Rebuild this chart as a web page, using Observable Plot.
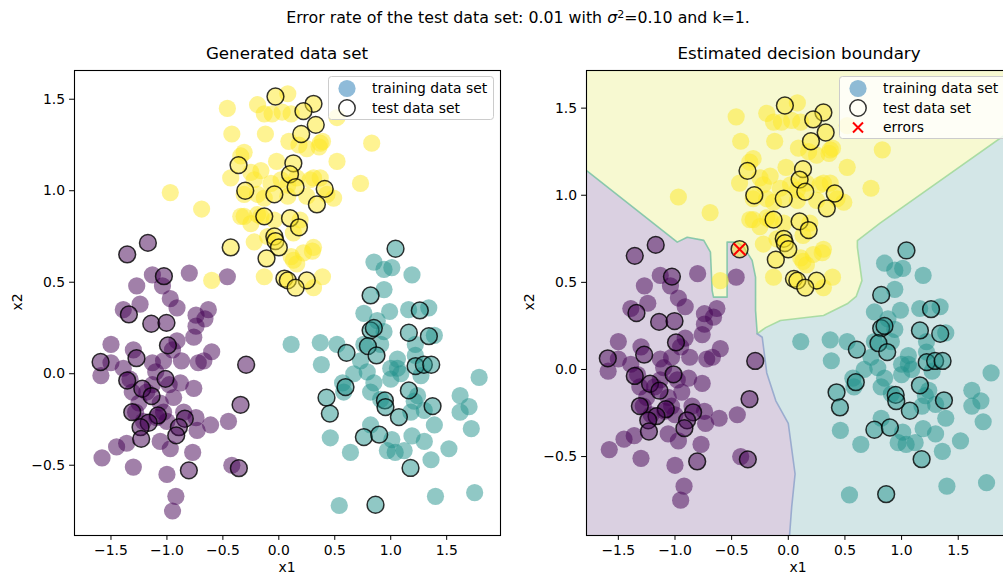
<!DOCTYPE html>
<html><head><meta charset="utf-8">
<script src="https://cdn.jsdelivr.net/npm/d3@7"></script>
<script src="https://cdn.jsdelivr.net/npm/@observablehq/plot@0.6"></script>
<style>
body{margin:0;background:#fff;font-family:"DejaVu Sans",sans-serif;}
#wrap{position:relative;width:1003px;height:576px;overflow:hidden;background:#fff;}
.abs{position:absolute;}
.abs svg{max-width:none !important;}
.txt{position:absolute;transform:translate(-50%,-50%);white-space:nowrap;line-height:1;color:#000;font-family:"DejaVu Sans",sans-serif;}
.t16{font-size:16.7px;}
.tsup{font-size:15.8px;}
.t14{font-size:13.9px;}
sup{font-size:70%;vertical-align:0.45em;line-height:0;}
</style></head><body>
<div id="wrap"></div>
<script>
// ---- data ----
const classColors = ["#440154", "#21918c", "#fde725"]; // purple, teal, yellow
const xTicks = [-1.5, -1.0, -0.5, 0.0, 0.5, 1.0, 1.5];
const yTicks = [-0.5, 0.0, 0.5, 1.0, 1.5];

const purpleTrain = [
[-1.13,0.54],[-1.27,0.48],[-1.04,0.48],[-0.80,0.55],[-0.46,0.53],[-0.97,0.41],[-1.24,0.38],[-1.39,0.35],
[-0.91,0.36],[-0.74,0.32],[-0.63,0.35],[-0.66,0.30],[-0.74,0.26],[-0.76,0.20],[-0.91,0.18],[-0.95,0.13],
[-1.50,0.16],[-1.30,0.13],[-1.50,0.06],[-1.59,-0.01],[-1.39,0.03],[-1.13,0.06],[-1.03,0.07],[-0.87,0.07],
[-0.72,0.06],[-0.60,0.12],[-0.67,0.07],[-0.88,-0.05],[-0.76,-0.08],[-0.98,-0.06],[-1.10,0.01],[-1.33,-0.03],
[-1.31,-0.10],[-1.18,-0.10],[-0.94,-0.13],[-1.06,-0.16],[-1.03,-0.21],[-0.85,-0.21],[-0.74,-0.24],[-0.61,-0.28],
[-0.45,-0.26],[-0.73,-0.31],[-1.06,-0.37],[-0.97,-0.41],[-0.77,-0.43],[-1.36,-0.38],[-1.45,-0.40],[-1.58,-0.46],
[-1.30,-0.51],[-1.00,-0.55],[-0.92,-0.67],[-0.95,-0.75],[-0.42,-0.50],[-1.28,-0.21],[-1.21,-0.26],[-1.09,-0.24],
[-1.13,-0.06],[-1.25,-0.16],[-1.00,-0.26]
];
const tealTrain = [
[0.85,0.61],[0.94,0.57],[1.01,0.58],[1.19,0.54],[0.94,0.46],[0.76,0.33],[0.99,0.34],[1.16,0.35],[1.34,0.36],
[0.11,0.16],[0.37,0.17],[0.52,0.16],[0.38,0.05],[0.88,0.29],[0.94,0.23],[0.76,0.16],[0.91,0.16],[1.06,0.08],
[1.00,0.03],[0.73,0.07],[0.67,0.00],[0.57,-0.05],[0.79,0.01],[0.85,-0.05],[0.82,-0.10],[1.00,-0.03],[1.06,0.03],
[1.09,0.00],[1.22,0.16],[1.22,0.10],[1.39,0.21],[1.27,-0.01],[1.24,-0.12],[1.18,-0.21],[1.30,-0.20],[1.39,-0.28],
[1.52,-0.41],[1.62,-0.12],[1.70,-0.18],[1.62,-0.21],[1.72,-0.30],[1.79,-0.02],[0.46,-0.35],[0.64,-0.43],[0.82,-0.28],
[1.01,-0.36],[0.97,-0.42],[1.04,-0.43],[1.12,-0.42],[1.19,-0.34],[1.30,-0.37],[1.36,-0.47],[0.54,-0.72],[1.40,-0.67],
[1.75,-0.65],[0.58,-0.10],[0.91,-0.14],[1.21,-0.15]
];
const yellowTrain = [
[-0.46,1.45],[-0.19,1.47],[0.08,1.53],[-0.13,1.42],[-0.06,1.42],[0.03,1.43],[0.11,1.42],[0.52,1.40],
[-0.42,1.31],[-0.12,1.31],[0.09,1.27],[0.18,1.25],[0.25,1.23],[0.36,1.24],[0.39,1.27],[0.83,1.26],
[-0.31,1.21],[-0.34,1.19],[-0.02,1.16],[0.52,1.16],[-0.43,1.07],[-0.25,1.10],[-0.16,1.11],[-0.22,1.06],
[0.02,1.06],[0.08,1.03],[0.28,1.06],[0.37,1.07],[0.73,1.04],[-0.97,0.99],[-0.69,0.90],[-0.31,0.98],
[-0.19,0.98],[-0.13,0.96],[0.08,0.97],[0.25,0.97],[0.49,0.96],[-0.31,0.86],[-0.25,0.82],[-0.19,0.87],
[0.19,0.84],[-0.22,0.72],[-0.10,0.75],[0.31,0.69],[0.22,0.66],[0.11,0.64],[0.16,0.60],[-0.60,0.51],
[-0.13,0.53],[0.39,0.53],[0.31,0.47],[0.13,0.62],[-0.34,0.86],[-0.16,0.86],[-0.07,1.04],[0.16,1.07],
[0.43,0.98],[-0.04,0.84],[0.13,0.77],[0.37,1.26],[0.31,1.07],[0.30,0.67]
];

const purpleTest = [
[-1.355,0.652],[-1.17,0.715],[-1.027,0.533],[-1.34,0.324],[-1.14,0.273],[-1.004,0.278],[-0.991,0.155],
[-1.593,0.064],[-1.272,0.085],[-1.355,-0.037],[-1.013,-0.028],[-1.22,-0.082],[-1.137,-0.122],[-1.31,-0.21],
[-1.081,-0.228],[-1.163,-0.268],[-1.236,-0.292],[-1.23,-0.356],[-0.84,-0.246],[-0.893,-0.292],[-0.917,-0.337],
[-0.804,-0.528],[-0.292,0.049],[-0.342,-0.17],[-0.357,-0.516]
];
const tealTest = [
[1.043,0.683],[0.82,0.428],[1.26,0.346],[0.82,0.237],[0.849,0.25],[1.162,0.224],[1.341,0.205],[0.605,0.114],
[0.796,0.151],[0.873,0.1],[1.222,0.042],[1.296,0.049],[1.362,0.049],[0.596,-0.073],[1.162,-0.091],[0.426,-0.131],
[0.456,-0.218],[0.948,-0.146],[0.953,-0.182],[1.073,-0.237],[1.374,-0.177],[0.76,-0.346],[0.897,-0.333],
[1.177,-0.515],[0.864,-0.716]
];
const yellowTest = [
[-0.03,1.515],[0.31,1.475],[0.22,1.435],[0.33,1.36],[0.20,1.31],[-0.36,1.14],[0.13,1.15],[0.10,1.09],
[-0.30,1.00],[-0.04,0.98],[0.15,1.02],[0.41,1.01],[0.34,0.925],[-0.13,0.86],[0.10,0.85],[0.18,0.80],
[-0.04,0.75],[-0.03,0.725],[0.0,0.69],[-0.11,0.63],[-0.43,0.69],[0.05,0.52],[0.08,0.51],[0.25,0.51],[0.15,0.47]
];
const errors = [[-0.43,0.69]];

// decision boundaries (right panel)
const boundaryYP = [[-1.85,1.18],[-1.78,1.142],[-0.98,0.731],[-0.892,0.759],[-0.746,0.741],[-0.687,0.673],
  [-0.672,0.453],[-0.66,0.415],[-0.54,0.415],[-0.54,0.731],[-0.451,0.731],[-0.393,0.702],[-0.319,0.626],
  [-0.289,0.53],[-0.289,0.339],[-0.274,0.205]];
const boundaryYT = [[-0.274,0.205],[-0.2,0.24],[-0.069,0.281],[0.311,0.31],[0.52,0.377],[0.6,0.42],
  [0.65,0.51],[0.61,0.70],[0.61,0.74],[0.81,0.84],[2.05,1.41]];
const boundaryPT = [[-0.274,0.205],[-0.23,0.185],[-0.19,-0.02],[-0.11,-0.18],[0.0,-0.31],[0.06,-0.6],
  [0.03,-0.79],[0.0,-1.05]];
const regionColors = {purple:"#dad0e1", teal:"#d3e6e7", yellow:"#f7f9d1"};

// ---- build ----
const fmt = d => (d < 0 ? "\u2212" : "") + Math.abs(d).toFixed(1);
const trainSets = [purpleTrain, tealTrain, yellowTrain];
const testSets = [purpleTest, tealTest, yellowTest];

function pointMarks(clip) {
  const m = [];
  trainSets.forEach((s, i) => m.push(Plot.dot(s, {x: d => d[0], y: d => d[1], r: 8.6, fill: classColors[i], fillOpacity: 0.5, clip})));
  testSets.forEach((s, i) => m.push(Plot.dot(s, {x: d => d[0], y: d => d[1], r: 8.4, fill: classColors[i], fillOpacity: 0.5, stroke: "#000", strokeOpacity: 0.8, strokeWidth: 1.5, clip})));
  return m;
}
function axes() {
  return [
    Plot.axisX({ticks: xTicks, tickFormat: fmt, tickSize: 4.9, tickPadding: 4.5, label: null}),
    Plot.axisY({ticks: yTicks, tickFormat: fmt, tickSize: 4.9, tickPadding: 4.5, label: null}),
    Plot.frame({stroke: "#000", strokeWidth: 1.1})
  ];
}
const style = {fontFamily: "DejaVu Sans, sans-serif", fontSize: "13.9px", color: "#000", background: "transparent", overflow: "visible", maxWidth: "none"};

const p1 = Plot.plot({
  width: 510, height: 576, marginLeft: 74, marginRight: 10, marginTop: 70, marginBottom: 41,
  style, x: {domain: [-1.826, 1.981]}, y: {domain: [-0.884, 1.657]},
  marks: [...pointMarks(false), ...axes()]
});

const purplePoly = [...boundaryYP, ...boundaryPT.slice(1), [-1.85, -1.05]];
const yellowPoly = [[-1.85, 1.8], [2.1, 1.8], ...boundaryYT.slice().reverse(), ...boundaryYP.slice().reverse()];

const p2 = Plot.plot({
  width: 502, height: 576, marginLeft: 66, marginRight: 10, marginTop: 70, marginBottom: 41,
  style, x: {domain: [-1.781, 1.979]}, y: {domain: [-0.953, 1.716]},
  marks: [
    Plot.frame({fill: regionColors.teal}),
    Plot.line(purplePoly, {x: d => d[0], y: d => d[1], fill: regionColors.purple, stroke: "none", clip: true}),
    Plot.line(yellowPoly, {x: d => d[0], y: d => d[1], fill: regionColors.yellow, stroke: "none", clip: true}),
    Plot.line(boundaryYP, {x: d => d[0], y: d => d[1], stroke: "#7fc4a6", strokeWidth: 1.6, strokeOpacity: 0.9, clip: true}),
    Plot.line(boundaryYT, {x: d => d[0], y: d => d[1], stroke: "#a3d99c", strokeWidth: 1.6, strokeOpacity: 0.9, clip: true}),
    Plot.line(boundaryPT, {x: d => d[0], y: d => d[1], stroke: "#93a6cc", strokeWidth: 1.6, strokeOpacity: 0.9, clip: true}),
    ...pointMarks(true),
    Plot.dot(errors, {x: d => d[0], y: d => d[1], symbol: "times", r: 5.5, stroke: "red", strokeWidth: 2}),
    ...axes()
  ]
});

const wrap = document.getElementById("wrap");
const d1 = document.createElement("div"); d1.className = "abs"; d1.style.left = "0px"; d1.style.top = "0px"; d1.style.width = "510px"; d1.appendChild(p1); wrap.appendChild(d1);
const d2 = document.createElement("div"); d2.className = "abs"; d2.style.left = "520px"; d2.style.top = "0px"; d2.style.width = "502px"; d2.appendChild(p2); wrap.appendChild(d2);

function text(html, x, y, cls, rot) {
  const t = document.createElement("div");
  t.className = "txt " + cls;
  t.style.left = x + "px"; t.style.top = y + "px";
  if (rot) t.style.transform = "translate(-50%,-50%) rotate(-90deg)";
  t.innerHTML = html;
  wrap.appendChild(t);
}
text('Error rate of the test data set: 0.01 with <i>σ</i><sup>2</sup>=0.10 and k=1.', 518, 18, "tsup");
text("Generated data set", 287, 53, "t16");
text("Estimated decision boundary", 799, 53, "t16");
text("x1", 287, 568, "t14");
text("x1", 798, 568, "t14");
text("x2", 18, 302, "t14", true);
text("x2", 530, 302, "t14", true);

function legend(x, y, w, h, items) {
  const svg = d3.create("svg").attr("width", w + 2).attr("height", h + 2)
    .style("position", "absolute").style("left", x + "px").style("top", y + "px").style("overflow", "visible");
  svg.append("rect").attr("x", 0.5).attr("y", 0.5).attr("width", w).attr("height", h).attr("rx", 3)
    .attr("fill", "#fff").attr("fill-opacity", 0.8).attr("stroke", "#cccccc");
  items.forEach((it, i) => {
    const cy = 12.5 + i * 19.5;
    if (it.kind === "train") svg.append("circle").attr("cx", 19).attr("cy", cy).attr("r", 8.6).attr("fill", "#1f77b4").attr("fill-opacity", 0.5);
    if (it.kind === "test") svg.append("circle").attr("cx", 19).attr("cy", cy).attr("r", 8.2).attr("fill", "none").attr("stroke", "#000").attr("stroke-opacity", 0.8).attr("stroke-width", 1.5);
    if (it.kind === "err") svg.append("path").attr("d", `M14,${cy-5}L24,${cy+5}M14,${cy+5}L24,${cy-5}`).attr("stroke", "red").attr("stroke-width", 2);
    svg.append("text").attr("x", 44).attr("y", cy).attr("dy", "0.35em").attr("font-family", "DejaVu Sans, sans-serif")
      .attr("font-size", "13.9px").attr("fill", "#000").text(it.label);
  });
  wrap.appendChild(svg.node());
}
legend(328, 76, 165, 43, [{kind: "train", label: "training data set"}, {kind: "test", label: "test data set"}]);
legend(839, 76, 185, 62, [{kind: "train", label: "training data set"}, {kind: "test", label: "test data set"}, {kind: "err", label: "errors"}]);
</script>
</body></html>
